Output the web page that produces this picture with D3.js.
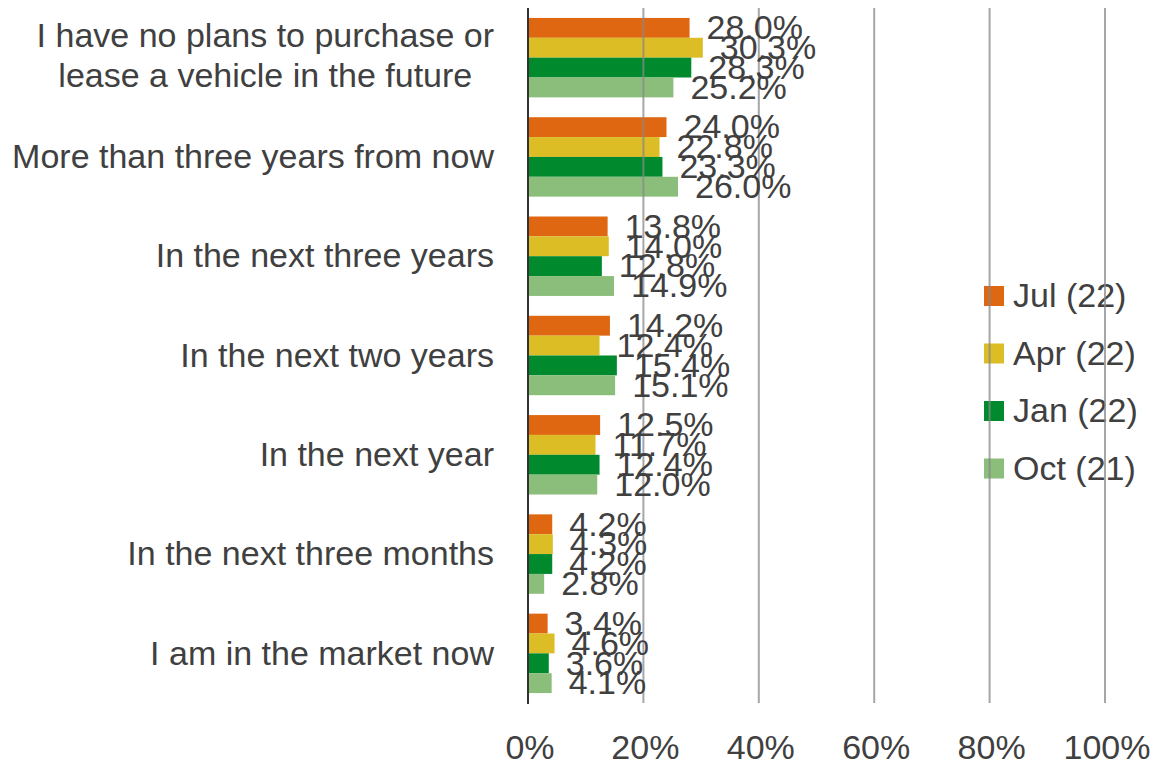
<!DOCTYPE html>
<html><head><meta charset="utf-8">
<script src="https://cdn.jsdelivr.net/npm/d3@7"></script>
<style>body{margin:0;background:#fff}text{font-family:"Liberation Sans",Arial,sans-serif;fill:#404040}</style>
</head><body><svg id="c" width="1154" height="765"></svg>
<script>
const categories = ["I have no plans to purchase or\nlease a vehicle in the future","More than three years from now","In the next three years","In the next two years","In the next year","In the next three months","I am in the market now"];
const seriesNames = ["Jul (22)","Apr (22)","Jan (22)","Oct (21)"];
const seriesColors = ["#DF6711","#DCBD26","#00892D","#8ABE7A"];
const jul22 = [28.0,24.0,13.8,14.2,12.5,4.2,3.4];
const apr22 = [30.3,22.8,14.0,12.4,11.7,4.3,4.6];
const jan22 = [28.3,23.3,12.8,15.4,12.4,4.2,3.6];
const oct21 = [25.2,26.0,14.9,15.1,12.0,2.8,4.1];
const tickValues = [0,20,40,60,80,100];
const seriesValues = [jul22,apr22,jan22,oct21];

const FS = 34;
const svg = d3.select("#c");
const x = d3.scaleLinear().domain([0,100]).range([528,1105]);
const y = d3.scaleBand().domain(categories).range([8,703]).paddingInner(0.2).paddingOuter(0.1);
const ys = d3.scaleBand().domain(seriesNames).range([0,y.bandwidth()]);

// legend (drawn under gridlines as in reference)
const lg = svg.append("g");
seriesNames.forEach((s,i)=>{
  const ly = 286 + i*57.5;
  lg.append("rect").attr("x",984).attr("y",ly).attr("width",20).attr("height",20).attr("fill",seriesColors[i]);
  lg.append("text").attr("x",1013).attr("y",ly+10).attr("dy","0.33em").attr("font-size",FS).text(s);
});

// bars
categories.forEach((c,ci)=>{
  seriesNames.forEach((s,si)=>{
    svg.append("rect").attr("x",x(0)).attr("y",y(c)+ys(s)).attr("width",x(seriesValues[si][ci])-x(0)).attr("height",ys.bandwidth()).attr("fill",seriesColors[si]);
  });
});

// gridlines
svg.append("g").selectAll("line").data(tickValues.slice(1)).join("line")
  .attr("x1",d=>x(d)).attr("x2",d=>x(d)).attr("y1",8).attr("y2",703)
  .attr("stroke","#888").attr("stroke-opacity",0.75).attr("stroke-width",2);
svg.append("line").attr("x1",x(0)).attr("x2",x(0)).attr("y1",8).attr("y2",704).attr("stroke","#333").attr("stroke-width",2);

// tick labels
svg.append("g").selectAll("text").data(tickValues).join("text")
  .attr("x",d=>x(d)+2).attr("y",759).attr("text-anchor","middle").attr("font-size",FS).text(d=>d+"%");

// category labels
categories.forEach(c=>{
  const lines = c.split("\n");
  const cy = y(c)+y.bandwidth()/2;
  if (lines.length === 1) {
    svg.append("text").attr("x",494).attr("y",cy).attr("dy","0.33em")
      .attr("text-anchor","end").attr("font-size",FS).text(lines[0]);
  } else {
    const ts = lines.map((l,i)=>svg.append("text").attr("y",cy+(i-(lines.length-1)/2)*40-2).attr("dy","0.33em")
      .attr("text-anchor","middle").attr("font-size",FS).text(l));
    const w = d3.max(ts, t=>t.node().getComputedTextLength());
    ts.forEach(t=>t.attr("x",494-w/2));
  }
});

// data labels
categories.forEach((c,ci)=>{
  seriesNames.forEach((s,si)=>{
    const v = seriesValues[si][ci];
    svg.append("text").attr("x",x(v)+17).attr("y",y(c)+ys(s)+ys.bandwidth()/2).attr("dy","0.33em")
      .attr("font-size",FS).text(v.toFixed(1)+"%");
  });
});
</script></body></html>
